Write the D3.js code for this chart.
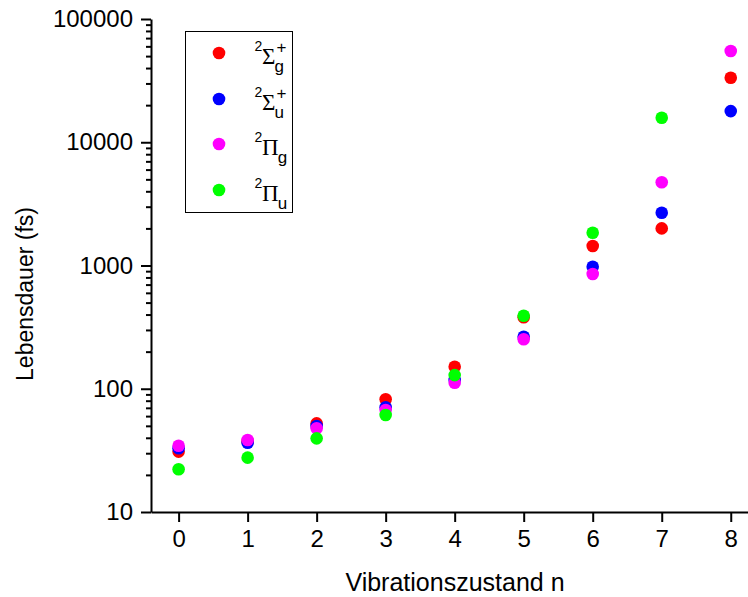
<!DOCTYPE html>
<html>
<head>
<meta charset="utf-8">
<script src="https://cdn.jsdelivr.net/npm/d3@7"></script>
<style>
  html, body { margin: 0; padding: 0; background: #fff; }
  svg { display: block; }
  text { fill: #000; }
</style>
</head>
<body>
<svg id="chart" width="748" height="597"></svg>
<script>
// Vibrational level index n
const levels = [0, 1, 2, 3, 4, 5, 6, 7, 8];

// Lifetimes in fs for each electronic state (null = no value)
const sigmaG = [30.9, 37.5, 52.4, 82.1, 151, 380, 1440, 2000, 33400];
const sigmaU = [32.9, 36.5, 49.9, 70.7, 118, 264, 978, 2680, 17900];
const piG    = [34.5, 38.4, 47.8, 67.2, 112, 252, 853, 4730, 55000];
const piU    = [22.2, 27.6, 39.6, 61.2, 129, 391, 1845, 15800, null];

const seriesColors = ["#ff0000", "#0000ff", "#ff00ff", "#00ff00"];
const seriesSymbols = ["Σ", "Σ", "Π", "Π"];
const seriesSubs = ["g", "u", "g", "u"];
const seriesSups = ["+", "+", "", ""];

const yMajorTicks = [10, 100, 1000, 10000, 100000];
const xTickLabels = ["0", "1", "2", "3", "4", "5", "6", "7", "8"];

const xTitle = "Vibrationszustand n";
const yTitle = "Lebensdauer (fs)";

const series = [sigmaG, sigmaU, piG, piU];

const SANS = "'Liberation Sans', Arial, sans-serif";
const SERIF = "'Liberation Serif', 'Times New Roman', serif";

const svg = d3.select("#chart");

const x = d3.scaleLinear().domain([-0.4, 8.25]).range([151, 748]);
const y = d3.scaleLog().domain([10, 100000]).range([512, 19]);

// minor ticks 2..9 per decade
const yMinorTicks = [];
yMajorTicks.slice(0, -1).forEach(d => {
  for (let k = 2; k <= 9; k++) yMinorTicks.push(d * k);
});

// y axis: major ticks with labels
const yAxis = svg.append("g").attr("transform", `translate(${x.range()[0]},0)`)
  .call(d3.axisLeft(y).tickValues(yMajorTicks).tickFormat(d3.format("d"))
    .tickSize(10).tickSizeOuter(0).tickPadding(8));
yAxis.select(".domain").attr("stroke", "#000").attr("stroke-width", 2);
yAxis.selectAll(".tick line").attr("stroke", "#000").attr("stroke-width", 2);
yAxis.selectAll(".tick text").style("font-size", "24px").style("font-family", SANS);

// y axis: minor ticks
const yMinor = svg.append("g").attr("transform", `translate(${x.range()[0]},0)`)
  .call(d3.axisLeft(y).tickValues(yMinorTicks).tickFormat("").tickSize(5).tickSizeOuter(0));
yMinor.select(".domain").remove();
yMinor.selectAll(".tick line").attr("stroke", "#000").attr("stroke-width", 2);

// x axis
const xAxis = svg.append("g").attr("transform", `translate(0,${y.range()[0]})`)
  .call(d3.axisBottom(x).tickValues(levels).tickFormat((d, i) => xTickLabels[i])
    .tickSize(10).tickSizeOuter(0).tickPadding(8));
xAxis.select(".domain").attr("stroke", "#000").attr("stroke-width", 2);
xAxis.selectAll(".tick line").attr("stroke", "#000").attr("stroke-width", 2);
xAxis.selectAll(".tick text").style("font-size", "24px").style("font-family", SANS);

// axis titles
svg.append("text").attr("x", 455).attr("y", 591)
  .attr("text-anchor", "middle")
  .style("font-size", "25px").style("font-family", SANS).text(xTitle);
svg.append("text").attr("transform", "translate(33,294) rotate(-90)")
  .attr("text-anchor", "middle")
  .style("font-size", "23px").style("font-family", SANS).text(yTitle);

// data points
series.forEach((vals, si) => {
  svg.append("g").selectAll("circle")
    .data(levels.map((n, i) => ({ n, v: vals[i] })).filter(d => d.v != null))
    .join("circle")
    .attr("cx", d => x(d.n))
    .attr("cy", d => y(d.v))
    .attr("r", 6.3)
    .attr("fill", seriesColors[si]);
});

// legend
const legend = svg.append("g");
legend.append("rect").attr("x", 185.5).attr("y", 31.5).attr("width", 107).attr("height", 181)
  .attr("fill", "none").attr("stroke", "#000").attr("stroke-width", 1);

const rowY = [53, 99, 144, 190];
seriesColors.forEach((c, i) => {
  const m = rowY[i];
  legend.append("circle").attr("cx", 219).attr("cy", m).attr("r", 6.3).attr("fill", c);
  legend.append("text").attr("x", 254.5).attr("y", m - 2)
    .style("font-size", "14px").style("font-family", SANS).text("2");
  const big = legend.append("text").attr("x", 262).attr("y", m + 11)
    .style("font-family", SERIF).style("font-size", "23px").text(seriesSymbols[i]);
  const w = big.node().getComputedTextLength();
  legend.append("text").attr("x", 262 + w - 1).attr("y", m + 19)
    .style("font-size", "17px").style("font-family", SANS).text(seriesSubs[i]);
  if (seriesSups[i]) {
    legend.append("text").attr("x", 262 + w + 1).attr("y", m)
      .style("font-size", "17px").style("font-family", SANS).text(seriesSups[i]);
  }
});
</script>
</body>
</html>
